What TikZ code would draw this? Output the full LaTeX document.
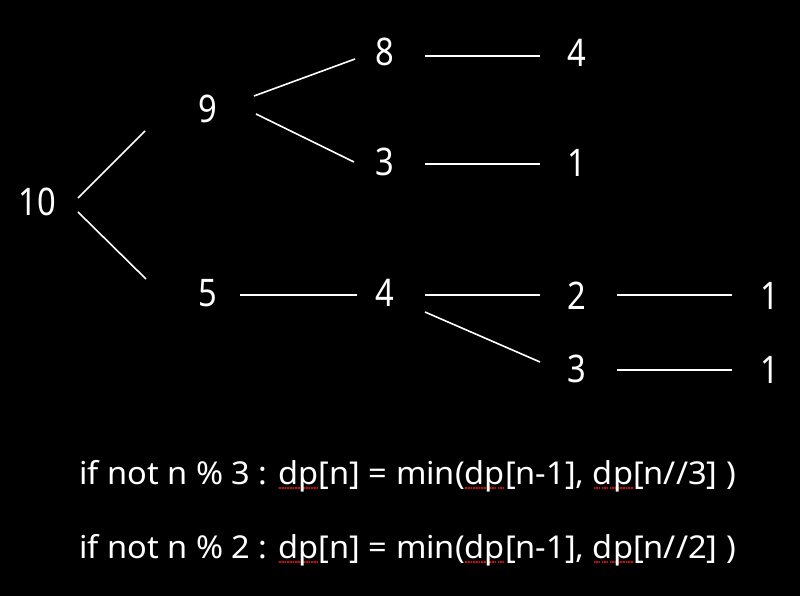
\documentclass[tikz,border=0pt]{standalone}
\usepackage{fontspec}
\setmainfont{Noto Sans}[FakeStretch=0.86]
\newfontfamily\codefont{Noto Sans}[FakeStretch=1.035]
\definecolor{spellred}{RGB}{230,0,0}
\newcommand\spellmark[1]{\setbox0\hbox{#1}\rlap{\raisebox{-4.5pt}{\textcolor{spellred}{\hbox to \wd0{\xleaders\hbox to 2.6pt{\hss\vrule width 1.6pt height 1.6pt depth 0pt\hss}\hfill}}}}\box0}
\begin{document}
\begin{tikzpicture}[x=1pt,y=-1pt,
  num/.style={text=white,font=\fontsize{38}{40}\selectfont,inner sep=0pt},
  edge/.style={draw=white,line width=1.6pt},
  code/.style={text=white,font=\codefont\fontsize{31.5}{34}\selectfont,inner sep=0pt,anchor=base west}]
\fill[black] (0,0) rectangle (800,596);
\useasboundingbox (0,0) rectangle (800,596);
% numbers
\node[num] (n10) at (37,202) {10};
\node[num] (n9) at (208,109) {9};
\node[num] (n5) at (208,293) {5};
\node[num] (n8) at (385,52) {8};
\node[num] (n3a) at (385,162) {3};
\node[num] (n4a) at (385,293) {4};
\node[num] (n4b) at (577,53) {4};
\node[num] (n1a) at (577,163) {1};
\node[num] (n2) at (577,296) {2};
\node[num] (n3b) at (577,369) {3};
\node[num] (n1b) at (770,296) {1};
\node[num] (n1c) at (770,370) {1};
% connector end points
\coordinate (a1) at (78,198);  \coordinate (a2) at (145,131);
\coordinate (b1) at (78,212);  \coordinate (b2) at (146,279);
\coordinate (c1) at (254,96);  \coordinate (c2) at (355,59);
\coordinate (d1) at (256,114); \coordinate (d2) at (354,162);
\coordinate (e1) at (425,56);  \coordinate (e2) at (540,56);
\coordinate (f1) at (425,164); \coordinate (f2) at (540,164);
\coordinate (g1) at (240,295); \coordinate (g2) at (357,295);
\coordinate (h1) at (425,295); \coordinate (h2) at (540,295);
\coordinate (i1) at (617,295); \coordinate (i2) at (732,295);
\coordinate (j1) at (425,312); \coordinate (j2) at (540,362);
\coordinate (k1) at (617,370); \coordinate (k2) at (732,370);
\draw[edge] (a1) -- (a2);
\draw[edge] (b1) -- (b2);
\draw[edge] (c1) -- (c2);
\draw[edge] (d1) -- (d2);
\draw[edge] (e1) -- (e2);
\draw[edge] (f1) -- (f2);
\draw[edge] (g1) -- (g2);
\draw[edge] (h1) -- (h2);
\draw[edge] (i1) -- (i2);
\draw[edge] (j1) -- (j2);
\draw[edge] (k1) -- (k2);
% code lines
\node[code] (l1) at (79,484) {if not n \% 3 : \spellmark{dp}[n] = min(\spellmark{dp}[n-1], \spellmark{dp}[n//3] )};
\node[code] (l2) at (79,558) {if not n \% 2 : \spellmark{dp}[n] = min(\spellmark{dp}[n-1], \spellmark{dp}[n//2] )};
\end{tikzpicture}
\end{document}
